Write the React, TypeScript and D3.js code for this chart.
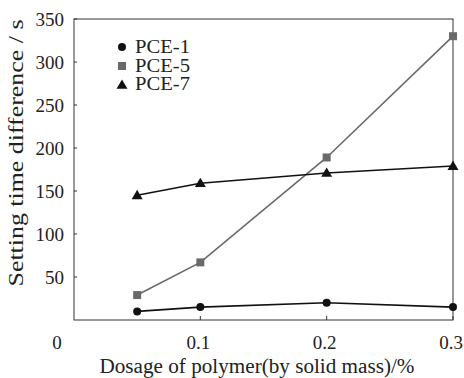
import React from "react";
import * as d3 from "d3";

const xDose = [0.05, 0.1, 0.2, 0.3];
const pce1 = [10, 15, 20, 15];
const pce5 = [29, 67, 189, 330];
const pce7 = [145, 159, 171, 179];
const seriesNames = ["PCE-1", "PCE-5", "PCE-7"];
const yTicks = [50, 100, 150, 200, 250, 300, 350];
const xTicks = [0.1, 0.2, 0.3];

const W = 464, H = 378;
const left = 74, right = 453, top = 19, bottom = 320;
const font = "Liberation Serif";

export default function App() {
  const x = d3.scaleLinear().domain([0, 0.3]).range([left, right]);
  const y = d3.scaleLinear().domain([0, 350]).range([bottom, top]);
  const line = d3.line<number>().x((_, i) => x(xDose[i])).y((d) => y(d));
  const series = [
    { name: seriesNames[0], vals: pce1, color: "#111", marker: "circle" },
    { name: seriesNames[1], vals: pce5, color: "#6a6a6a", marker: "square" },
    { name: seriesNames[2], vals: pce7, color: "#111", marker: "triangle" },
  ];
  const marker = (type: string, cx: number, cy: number, color: string, key: any) => {
    if (type === "circle") return <circle key={key} cx={cx} cy={cy} r={4} fill={color} />;
    if (type === "square") return <rect key={key} x={cx - 4} y={cy - 4} width={8} height={8} fill={color} />;
    const s = 5.5;
    return <path key={key} d={`M${cx},${cy - s}L${cx + s},${cy + s * 0.7}L${cx - s},${cy + s * 0.7}Z`} fill={color} />;
  };
  return (
    <svg width={W} height={H} style={{ position: "absolute", left: 0, top: 0, background: "#fff" }}>
      <rect x={0} y={0} width={W} height={H} fill="#fff" />
      <rect x={left} y={top} width={right - left} height={bottom - top} fill="none" stroke="#333" strokeWidth={1} />
      {yTicks.map((t) => (
        <g key={t}>
          <line x1={left} x2={left + 3} y1={y(t)} y2={y(t)} stroke="#333" />
          <text x={64} y={y(t)} dy="0.35em" textAnchor="end" fontFamily={font} fontSize={19} fill="#222">{t}</text>
        </g>
      ))}
      {xTicks.map((t) => (
        <g key={t}>
          <line x1={x(t)} x2={x(t)} y1={bottom} y2={bottom - 4} stroke="#333" />
          <text x={x(t) - 2} y={349} textAnchor="middle" fontFamily={font} fontSize={19} fill="#222">{t}</text>
        </g>
      ))}
      <text x={57} y={349} textAnchor="middle" fontFamily={font} fontSize={19} fill="#222">0</text>
      <text x={257} y={373} textAnchor="middle" fontFamily={font} fontSize={20} fill="#222" textLength={315} lengthAdjust="spacingAndGlyphs">Dosage of polymer(by solid mass)/%</text>
      <text transform={`translate(23,153) rotate(-90)`} textAnchor="middle" fontFamily={font} fontSize={20} fill="#222" textLength={267} lengthAdjust="spacingAndGlyphs">Setting time difference / s</text>
      {series.map((s) => (
        <g key={s.name}>
          <path d={line(s.vals) || ""} fill="none" stroke={s.color} strokeWidth={1.6} />
          {s.vals.map((v, i) => marker(s.marker, x(xDose[i]), y(v), s.color, i))}
        </g>
      ))}
      {series.map((s, i) => (
        <g key={"lg" + s.name}>
          {marker(s.marker, 122, 47 + i * 19, s.color, "m")}
          <text x={135} y={53 + i * 18.5} fontFamily={font} fontSize={18} fill="#222" textLength={55} lengthAdjust="spacingAndGlyphs">{s.name}</text>
        </g>
      ))}
    </svg>
  );
}
